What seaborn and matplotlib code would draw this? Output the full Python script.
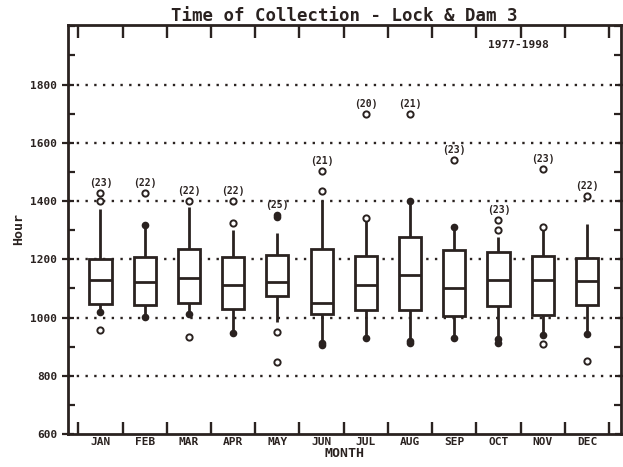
import numpy as np
import pandas as pd
import seaborn as sns
import matplotlib.pyplot as plt
from matplotlib.ticker import MultipleLocator, FixedLocator

months = ['JAN', 'FEB', 'MAR', 'APR', 'MAY', 'JUN', 'JUL', 'AUG', 'SEP', 'OCT', 'NOV', 'DEC']
counts = [23, 22, 22, 22, 25, 21, 20, 21, 23, 23, 23, 22]
whis_lo = [1019, 1003, 1011, 946, 983, 912, 929, 912, 929, 926, 941, 943]
q1 = [1047, 1044, 1049, 1029, 1073, 1011, 1026, 1026, 1004, 1038, 1010, 1043]
median = [1129, 1123, 1135, 1112, 1121, 1049, 1111, 1145, 1103, 1129, 1129, 1125]
q3 = [1201, 1207, 1237, 1207, 1216, 1235, 1212, 1276, 1233, 1224, 1211, 1206]
whis_hi = [1371, 1317, 1378, 1300, 1291, 1405, 1342, 1400, 1312, 1278, 1300, 1320]
open_points = [[1401, 1428, 958], [1428], [1401, 932], [1325, 1401], [949, 846],
               [1434, 1503], [1342, 1700], [1700], [1541], [1301, 1335],
               [1312, 909, 1510], [1418, 852]]
filled_points = [[1019], [1317, 1003], [1011], [946], [1345, 1352], [912, 905],
                 [929], [1400, 912, 920], [1312, 929], [926, 914], [941], [943]]
y_ticks = [600, 800, 1000, 1200, 1400, 1600, 1800]
period_text = '1977-1998'

INK = '#2a2220'

sns.set_theme(style='white')
plt.rcParams['font.family'] = ['DejaVu Sans Mono']
plt.rcParams['font.weight'] = 'bold'

box_rows = []
for m, a, b, c, d, e in zip(months, whis_lo, q1, median, q3, whis_hi):
    for v in (a, b, c, d, e):
        box_rows.append({'month': m, 'hour': v})
box_df = pd.DataFrame(box_rows)
open_df = pd.DataFrame([{'month': m, 'hour': v} for m, pts in zip(months, open_points) for v in pts])
fill_df = pd.DataFrame([{'month': m, 'hour': v} for m, pts in zip(months, filled_points) for v in pts])

fig = plt.figure(figsize=(6.23, 4.67), dpi=100)
ax = fig.add_axes([0.1087, 0.0707, 0.888, 0.876])

sns.boxplot(data=box_df, x='month', y='hour', order=months, whis=(0, 100),
            width=0.5, showfliers=False, color='white', linecolor=INK,
            linewidth=2.0, saturation=1, showcaps=False, ax=ax)

sns.stripplot(data=fill_df, x='month', y='hour', order=months, jitter=False,
              color=INK, size=5.5, linewidth=0, ax=ax, zorder=5)
n_before = len(ax.collections)
sns.stripplot(data=open_df, x='month', y='hour', order=months, jitter=False,
              color=INK, size=4.5, linewidth=1.4, edgecolor=INK, ax=ax, zorder=6)
for coll in ax.collections[n_before:]:
    coll.set_facecolor('white')
    coll.set_edgecolor(INK)

for i, (n, op, fp, hi) in enumerate(zip(counts, open_points, filled_points, whis_hi)):
    top = max(op + fp + [hi])
    ax.annotate(f'({n})', xy=(i, top), xytext=(0, 3.5), textcoords='offset points',
                ha='center', va='bottom', fontsize=7, fontweight='bold', color=INK)

ax.text(9.45, 1935, period_text, ha='center', va='center', fontsize=8,
        fontweight='bold', color=INK)

ax.set_xlim(-0.74, 11.77)
ax.set_ylim(600, 2005)
ax.yaxis.set_major_locator(FixedLocator(y_ticks))
ax.yaxis.set_minor_locator(MultipleLocator(100))
ax.set_xticks(range(len(months)))
ax.set_xticklabels(months)
ax.xaxis.set_minor_locator(FixedLocator(np.arange(-0.5, 12, 1.0)))

ax.grid(False)
for yv in y_ticks[1:]:
    ax.axhline(yv, color=INK, linewidth=1.7, linestyle=(0, (1, 2.7)), zorder=0.5)

for s in ax.spines.values():
    s.set_color(INK)
    s.set_linewidth(2.0)

ax.tick_params(axis='x', which='major', length=0, pad=2.5, labelsize=8, colors=INK)
ax.tick_params(axis='x', which='minor', top=True, bottom=True, direction='in',
               length=9, width=1.7, color=INK)
ax.tick_params(axis='y', which='major', left=True, right=True, direction='inout',
               length=9, width=1.6, color=INK, labelsize=8, labelcolor=INK, pad=3)
ax.tick_params(axis='y', which='minor', left=True, right=True, direction='in',
               length=5, width=1.6, color=INK)
for lab in ax.get_xticklabels() + ax.get_yticklabels():
    lab.set_fontweight('bold')

ax.set_xlabel('MONTH', fontsize=9.5, fontweight='bold', color=INK, labelpad=0)
ax.set_ylabel('Hour', fontsize=9.5, fontweight='bold', color=INK, labelpad=4)
ax.set_title('Time of Collection - Lock & Dam 3', fontsize=12.5, fontweight='bold',
             color=INK, pad=3)

fig.savefig('out.png', dpi=100, facecolor='white')
